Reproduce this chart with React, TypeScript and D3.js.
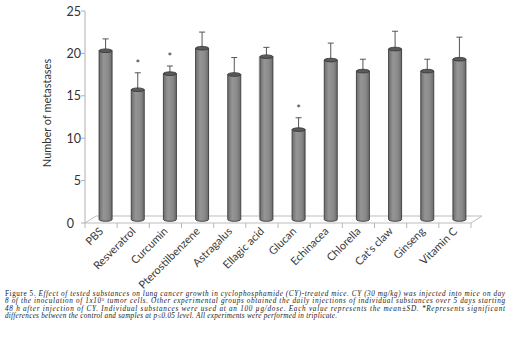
import * as d3 from 'd3';

const categories = ['PBS', 'Resveratrol', 'Curcumin', 'Pterostilbenzene', 'Astragalus', 'Ellagic acid', 'Glucan', 'Echinacea', 'Chlorella', "Cat's claw", 'Ginseng', 'Vitamin C'];
const means = [19.9, 15.3, 17.2, 20.2, 17.1, 19.2, 10.6, 18.8, 17.5, 20.1, 17.5, 18.9];
const sds = [1.4, 2.0, 0.9, 1.9, 2.0, 1.1, 1.4, 2.0, 1.4, 2.1, 1.4, 2.6];
const significant = [false, true, true, false, false, false, true, false, false, false, false, false];
const yTicks = [0, 5, 10, 15, 20, 25];

const captionLines = [
  'Effect of tested substances on lung cancer growth in cyclophosphamide (CY)-treated mice. CY (30 mg/kg) was injected into mice on day',
  '8 of the inoculation of 1x10|5| tumor cells. Other experimental groups obtained the daily injections of individual substances over 5 days starting',
  '48 h after injection of CY. Individual substances were used at an 100 µg/dose. Each value represents the mean±SD. *Represents significant',
  'differences between the control and samples at p≤0.05 level. All experiments were performed in triplicate.',
];
const captionWidths = [500, 500, 500, 332];

export default function App() {
  const width = 523;
  const height = 354;
  const left = 85;
  const right = 471;
  const top = 11;
  const bottom = 223;
  // 3D depth shift (floor back edge)
  const depthX = 11;
  const depthY = 7;

  const x = d3.scaleBand<string>().domain(categories).range([left, right]).padding(0);
  const y = d3.scaleLinear().domain([0, 25]).range([bottom, top]);
  const barW = 13;
  const cx = (c: string) => (x(c) as number) + x.bandwidth() / 2 + depthX / 2 - 1;
  const by = (v: number) => y(v) - depthY / 2;

  const font = 'Lato, "Liberation Sans", sans-serif';

  return (
    <svg width={width} height={height} style={{ position: 'absolute', left: 0, top: 0, background: '#fff' }}>
      <defs>
        <linearGradient id="cyl" x1="0" x2="1" y1="0" y2="0">
          <stop offset="0" stopColor="#6e6e6e" />
          <stop offset="0.35" stopColor="#959595" />
          <stop offset="0.7" stopColor="#8a8a8a" />
          <stop offset="1" stopColor="#6a6a6a" />
        </linearGradient>
      </defs>

      {/* floor */}
      <path
        d={`M${left},${bottom} L${left + depthX},${bottom - depthY} L${right + depthX},${bottom - depthY} L${right},${bottom} Z`}
        fill="none"
        stroke="#bdbdbd"
        strokeWidth={1}
      />
      <line x1={259} x2={259} y1={57} y2={bottom - depthY} stroke="#d8d8d8" strokeWidth={1} />

      {/* y axis */}
      <line x1={left} x2={left} y1={top} y2={bottom} stroke="#b0b0b0" strokeWidth={1} />
      {yTicks.map(t => (
        <g key={t}>
          <line x1={left - 4} x2={left} y1={y(t)} y2={y(t)} stroke="#b0b0b0" />
          <text
            x={t === 0 ? left - 11 : left - 4}
            y={y(t)}
            dy="0.36em"
            textAnchor="end"
            fontFamily={font}
            fontSize={12.5}
            fill="#333"
          >
            {t}
          </text>
        </g>
      ))}
      <text
        transform={`translate(${51},${113}) rotate(-90)`}
        textAnchor="middle"
        fontFamily={font}
        fontSize={11}
        fill="#333"
      >
        Number of metastases
      </text>

      {/* x ticks */}
      {categories.map(c => (
        <line key={c} x1={(x(c) as number)} x2={(x(c) as number)} y1={bottom} y2={bottom + 5} stroke="#b8b8b8" />
      ))}
      <line x1={right} x2={right} y1={bottom} y2={bottom + 5} stroke="#b8b8b8" />

      {/* bars */}
      {categories.map((c, i) => {
        const xc = cx(c);
        const yt = by(means[i]);
        const yb = by(0);
        const ryE = 1.8;
        const cap = by(means[i] + sds[i]);
        return (
          <g key={c}>
            <line x1={xc} x2={xc} y1={yt} y2={cap} stroke="#555" strokeWidth={1} />
            <line x1={xc - 3} x2={xc + 3} y1={cap} y2={cap} stroke="#555" strokeWidth={1} />
            <path
              d={`M${xc - barW / 2},${yt} L${xc - barW / 2},${yb} A${barW / 2},${ryE} 0 0 0 ${xc + barW / 2},${yb} L${xc + barW / 2},${yt} Z`}
              fill="url(#cyl)"
              stroke="#3a3a3a"
              strokeWidth={0.9}
            />
            <ellipse cx={xc} cy={yt} rx={barW / 2} ry={ryE} fill="#5a5a5a" stroke="#3a3a3a" strokeWidth={0.9} />
            {significant[i] && (
              <text x={xc} y={cap - 5} textAnchor="middle" fontFamily={font} fontSize={11} fill="#333">*</text>
            )}
          </g>
        );
      })}

      {/* category labels */}
      {categories.map(c => (
        <text
          key={c}
          transform={`translate(${(x(c) as number) + x.bandwidth() / 2 + 3},${bottom + 9}) rotate(-45)`}
          textAnchor="end"
          fontFamily={font}
          fontSize={11}
          fill="#3a3a3a"
        >
          {c}
        </text>
      ))}

      {/* caption */}
      {captionLines.map((line, i) => {
        const parts = line.split('|');
        return (
          <text
            key={i}
            x={5}
            y={296 + i * 7.3}
            fontFamily='"Liberation Serif", "Times New Roman", serif'
            fontSize={7.2}
            fill="#1a1a1a"
            textLength={captionWidths[i]}
            lengthAdjust="spacing"
          >
            {i === 0 && <tspan fontStyle="normal">Figure 5. </tspan>}
            {parts.map((p, j) =>
              j % 2 === 1 ? (
                <tspan key={j} fontStyle="italic" fontSize={5} dy={-2.2}>{p}</tspan>
              ) : (
                <tspan key={j} fontStyle="italic" dy={j > 0 ? 2.2 : 0}>{p}</tspan>
              )
            )}
          </text>
        );
      })}
    </svg>
  );
}
